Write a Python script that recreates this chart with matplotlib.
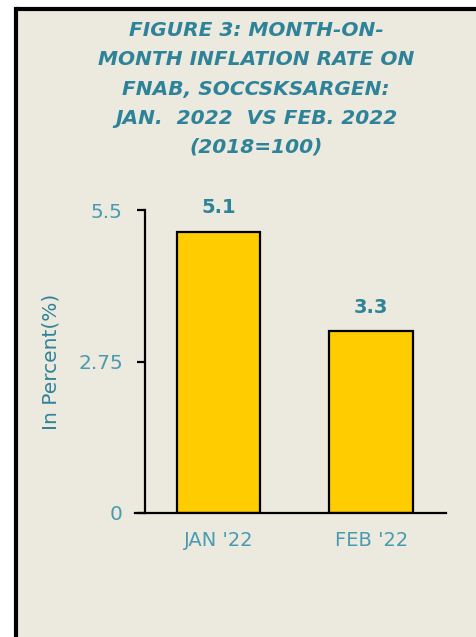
import matplotlib.pyplot as plt
from matplotlib.patches import Rectangle
from matplotlib.lines import Line2D

# month-on-month inflation, FNAB
months = ["JAN '22", "FEB '22"]
rates = [5.1, 3.3]
yticks = [0, 2.75, 5.5]
ytick_labels = ["0", "2.75", "5.5"]

teal = "#2F8399"
light_teal = "#4A9BB0"
bg = "#ECE9DF"

fig = plt.figure(figsize=(4.77, 6.37), dpi=100)
fig.patch.set_facecolor("white")

# beige panel with a heavy black border on the top and left
left, top = 16 / 477, 1 - 9 / 637
fig.add_artist(Rectangle((left, 0), 1 - left, top, transform=fig.transFigure,
                         facecolor=bg, edgecolor="none", zorder=-2))
fig.add_artist(Line2D([left, left], [-0.01, top], transform=fig.transFigure,
                      color="black", linewidth=3, solid_capstyle="projecting"))
fig.add_artist(Line2D([left, 1.01], [top, top], transform=fig.transFigure,
                      color="black", linewidth=3, solid_capstyle="butt"))

ax = fig.add_axes([145 / 477, 1 - 513 / 637, 301 / 477, 303 / 637])
ax.set_facecolor(bg)

x = range(len(months))
bars = ax.bar(x, rates, width=0.545, color="#FFCC00", edgecolor="black", linewidth=1.6)

for b, v in zip(bars, rates):
    ax.annotate(f"{v}", (b.get_x() + b.get_width() / 2, v), xytext=(0, 10.5),
                textcoords="offset points", ha="center", va="bottom",
                fontsize=14, fontweight="bold", color=teal)

ax.set_xlim(-0.48, 1.49)
ax.set_ylim(0, 5.5)
ax.set_yticks(yticks)
ax.set_yticklabels(ytick_labels)
ax.set_xticks(list(x))
ax.set_xticklabels(months)

for s in ["top", "right"]:
    ax.spines[s].set_visible(False)
ax.spines["left"].set_linewidth(1.6)
ax.spines["bottom"].set_linewidth(1.6)
ax.spines["bottom"].set_bounds(-0.545, 1.49)

ax.tick_params(axis="y", length=6, width=1.6, pad=10, labelsize=14.5, labelcolor=light_teal)
ax.tick_params(axis="x", length=0, pad=13, labelsize=14, labelcolor=light_teal)

ax.set_ylabel("In Percent(%)", fontsize=14.5, color=teal)
ax.yaxis.set_label_coords(-0.28, 0.5)

title = ("FIGURE 3: MONTH-ON-\nMONTH INFLATION RATE ON\nFNAB, SOCCSKSARGEN:\n"
         "JAN.  2022  VS FEB. 2022\n(2018=100)")
fig.text(256 / 477, 1 - 89 / 637, title, ha="center", va="center", fontsize=14.5,
         fontweight="bold", fontstyle="italic", color=teal, linespacing=1.68)

fig.savefig("out.png", dpi=100)
